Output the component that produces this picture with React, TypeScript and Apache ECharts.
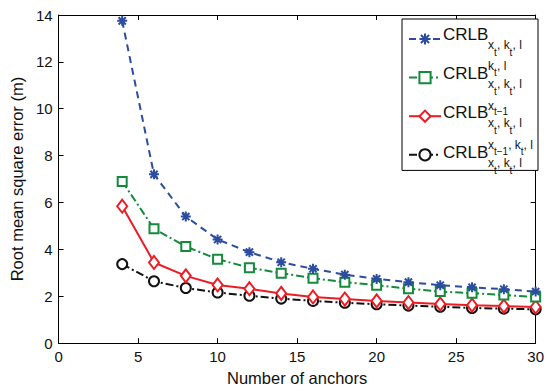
import React, { useEffect, useRef } from "react";
import * as echarts from "echarts";

const anchors = [4, 6, 8, 10, 12, 14, 16, 18, 20, 22, 24, 26, 28, 30];
const crlbA = [13.75, 7.2, 5.4, 4.42, 3.88, 3.45, 3.17, 2.92, 2.74, 2.6, 2.47, 2.38, 2.3, 2.2];
const crlbB = [6.9, 4.88, 4.12, 3.58, 3.22, 2.98, 2.77, 2.6, 2.47, 2.32, 2.2, 2.13, 2.05, 1.97];
const crlbC = [5.84, 3.44, 2.87, 2.48, 2.32, 2.12, 1.97, 1.88, 1.8, 1.73, 1.67, 1.62, 1.58, 1.54];
const crlbD = [3.37, 2.64, 2.35, 2.16, 2.02, 1.9, 1.8, 1.72, 1.66, 1.6, 1.55, 1.5, 1.47, 1.44];
const seriesNames = ["CRLB_A", "CRLB_B", "CRLB_C", "CRLB_D"];
const legendLabel = "CRLB";

const FONT = "Liberation Sans, Arial, Helvetica, sans-serif";
const BLUE = "#2b4c9f";
const GREEN = "#138a3c";
const RED = "#ed1c24";
const BLACK = "#111111";

const STAR = "path://M0,-1L0,1M-1,0L1,0M-0.72,-0.72L0.72,0.72M-0.72,0.72L0.72,-0.72";

function pairs(vals: number[]) {
  return anchors.map((a, i) => [a, vals[i]]);
}

function txt(x: number, y: number, s: string, size: number) {
  return {
    type: "text",
    x,
    y,
    silent: true,
    z: 100,
    style: {
      text: s,
      fontSize: size,
      fontFamily: FONT,
      fill: "#111",
      textAlign: "left",
      textVerticalAlign: "middle",
      verticalAlign: "middle",
    },
  };
}

const S1 = 12; // script font
const S2 = 10; // second-level script font

function subRow(x0: number, y0: number) {
  return [
    txt(x0, y0 + 11, "x", S1),
    txt(x0 + 6, y0 + 18, "t", S2),
    txt(x0 + 9, y0 + 11, ", k", S1),
    txt(x0 + 21.6, y0 + 18, "t", S2),
    txt(x0 + 24.5, y0 + 11, ", l", S1),
  ];
}

export default function App() {
  const ref = useRef<HTMLDivElement>(null);
  useEffect(() => {
    document.body.style.margin = "0";
    const chart = echarts.init(ref.current!, null, { renderer: "svg" });
    const x0 = 488;
    const ys = [34, 73, 112, 152];
    const graphics: any[] = [
      ...ys.map((y) => txt(443, y, legendLabel, 17)),
      ...subRow(x0, ys[0]),
      // entry 2
      txt(x0, ys[1] - 7, "k", S1),
      txt(x0 + 6, ys[1] - 1, "t", S2),
      txt(x0 + 9, ys[1] - 7, ", l", S1),
      ...subRow(x0, ys[1]),
      // entry 3
      txt(x0, ys[2] - 6, "x", S1),
      txt(x0 + 6, ys[2] - 1, "t\u22121", S2),
      ...subRow(x0, ys[2]),
      // entry 4
      txt(x0, ys[3] - 7, "x", S1),
      txt(x0 + 6, ys[3] - 1, "t\u22121", S2),
      txt(x0 + 20.2, ys[3] - 7, ", k", S1),
      txt(x0 + 32.8, ys[3] - 1, "t", S2),
      txt(x0 + 35.6, ys[3] - 7, ", l", S1),
      ...subRow(x0, ys[3]),
    ];

    const axisCommon = {
      type: "value",
      axisLine: { show: true, onZero: false, lineStyle: { color: "#000", width: 1 } },
      axisTick: { show: true, inside: true, length: 5, lineStyle: { color: "#000" } },
      splitLine: { show: false },
    };

    chart.setOption({
      animation: false,
      backgroundColor: "#fff",
      textStyle: { fontFamily: FONT },
      grid: { left: 55, right: 8, top: 15, bottom: 42, containLabel: false },
      xAxis: [
        {
          ...axisCommon,
          position: "bottom",
          min: 0,
          max: 30,
          interval: 5,
          axisLabel: { color: "#111", fontSize: 15, margin: 6, fontFamily: FONT },
          name: "Number of anchors",
          nameLocation: "middle",
          nameGap: 25,
          nameTextStyle: { color: "#111", fontSize: 16.5, fontFamily: FONT },
        },
        {
          ...axisCommon,
          position: "top",
          min: 0,
          max: 30,
          interval: 5,
          axisLabel: { show: false },
        },
      ],
      yAxis: [
        {
          ...axisCommon,
          position: "left",
          min: 0,
          max: 14,
          interval: 2,
          axisLabel: { color: "#111", fontSize: 15, margin: 6, fontFamily: FONT },
          name: "Root mean square error (m)",
          nameLocation: "middle",
          nameGap: 24,
          nameTextStyle: { color: "#111", fontSize: 16.5, fontFamily: FONT },
        },
        {
          ...axisCommon,
          position: "right",
          min: 0,
          max: 14,
          interval: 2,
          axisLabel: { show: false },
        },
      ],
      legend: {
        data: seriesNames,
        orient: "vertical",
        left: 402,
        top: 19,
        padding: [13, 96, 9, 6],
        itemWidth: 32,
        itemHeight: 14,
        itemGap: 25,
        borderColor: "#000",
        borderWidth: 1,
        backgroundColor: "#fff",
        formatter: () => "",
        textStyle: { fontSize: 1, color: "#fff" },
      },
      graphic: graphics,
      series: [
        {
          name: seriesNames[0],
          type: "line",
          data: pairs(crlbA),
          symbol: STAR,
          symbolSize: 10,
          symbolKeepAspect: true,
          lineStyle: { color: BLUE, width: 2, type: [7, 5] },
          itemStyle: { color: BLUE, borderColor: BLUE, borderWidth: 2 },
          z: 4,
        },
        {
          name: seriesNames[1],
          type: "line",
          data: pairs(crlbB),
          symbol: "emptyRect",
          symbolSize: 9,
          lineStyle: { color: GREEN, width: 2, type: [8, 3, 2, 3] },
          itemStyle: { color: GREEN, borderColor: GREEN, borderWidth: 2 },
          z: 3,
        },
        {
          name: seriesNames[2],
          type: "line",
          data: pairs(crlbC),
          symbol: "emptyDiamond",
          symbolSize: [10, 13],
          lineStyle: { color: RED, width: 2, type: "solid" },
          itemStyle: { color: RED, borderColor: RED, borderWidth: 2 },
          z: 2,
        },
        {
          name: seriesNames[3],
          type: "line",
          data: pairs(crlbD),
          symbol: "emptyCircle",
          symbolSize: 10,
          lineStyle: { color: BLACK, width: 2, type: [8, 3, 2, 3] },
          itemStyle: { color: BLACK, borderColor: BLACK, borderWidth: 2 },
          z: 1,
        },
      ],
    });
    return () => chart.dispose();
  }, []);
  return <div ref={ref} style={{ width: 547, height: 391 }} />;
}
